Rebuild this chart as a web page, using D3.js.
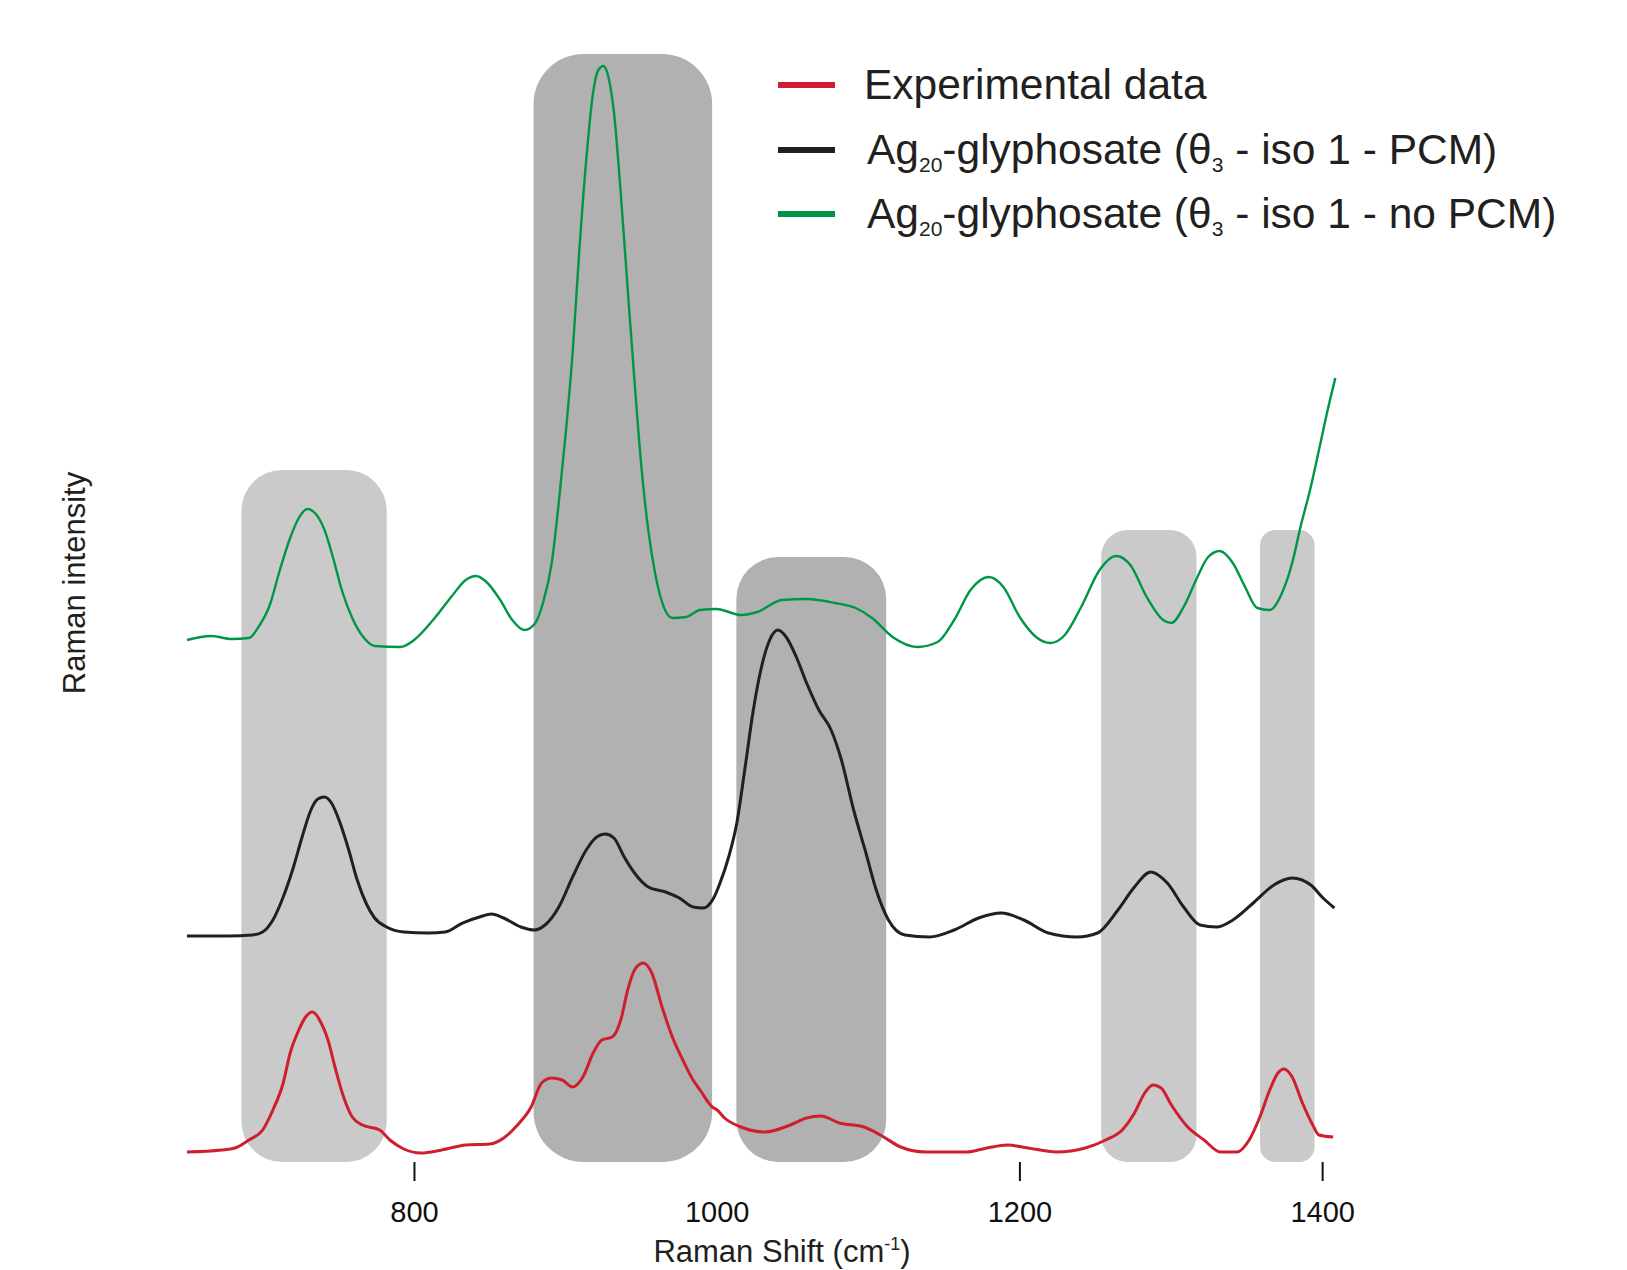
<!DOCTYPE html>
<html>
<head>
<meta charset="utf-8">
<script src="https://cdn.jsdelivr.net/npm/d3@7"></script>
<style>
  html, body { margin: 0; padding: 0; background: #ffffff; }
  svg { display: block; }
  text { font-family: "Liberation Sans", Arial, Helvetica, sans-serif; }
</style>
</head>
<body>
<svg id="chart" width="1627" height="1270"></svg>
<script>
// ---------------- DATA ----------------
// Raman shift (cm-1), stacked intensity (arbitrary units)
const experimental = [
  [650,1.8],[672.7,2.0],[681.7,2.2],[690.9,3.0],[700,4.0],[706.8,6.0],[713.6,8.7],[718.2,11.7],
  [723.9,14.0],[728.4,15.3],[733,15.8],[738.7,14.7],[743.2,13.0],[747.8,10.3],[753.5,7.3],[759.2,5.3],
  [766,4.5],[777.3,4.0],[784.1,3.0],[793.3,2.1],[804.6,1.7],[818.3,2.0],[834.2,2.5],[850.1,2.6],
  [859.3,3.2],[868.4,4.5],[877.4,6.3],[884.3,8.7],[891.1,9.2],[897.9,9.0],[904.8,8.3],[911.6,9.3],
  [918.4,11.7],[924.1,13.0],[931,13.3],[936.6,15.0],[941.2,18.0],[945.7,20.0],[951.4,20.7],[957.1,19.7],
  [963.9,16.3],[970.7,13.3],[977.6,11.0],[984.4,9.0],[989,8.0],[997.1,6.3],[1000.3,6.0],[1005.2,5.2],
  [1016.1,4.3],[1032.3,3.8],[1048.6,4.5],[1059.4,5.2],[1068.8,5.4],[1081,4.7],[1097.3,4.3],[1108.1,3.5],
  [1121.6,2.3],[1137.9,1.8],[1165,1.8],[1178.5,2.2],[1192.1,2.5],[1205.6,2.2],[1224.6,1.8],[1243.5,2.2],
  [1257,3.0],[1267.9,4.0],[1276,5.7],[1282.8,7.7],[1288.2,8.5],[1293.6,8.2],[1300.4,6.5],[1311.2,4.3],
  [1322,3.0],[1332.9,1.8],[1343.7,1.8],[1351.8,3.0],[1358.6,5.2],[1365.4,8.0],[1370.8,9.7],[1374.8,10.1],
  [1380.2,9.3],[1387,6.7],[1393.8,4.5],[1397.9,3.5],[1407.3,3.3]
];
const withPCM = [
  [650,23.4],[677.2,23.4],[693.2,23.5],[700,23.8],[706.8,25.0],[713.6,27.3],[720.4,30.3],[726.1,33.3],
  [731.9,36.0],[736.4,37.1],[740.9,37.3],[745.5,36.7],[751.2,34.7],[756.9,32.0],[762.5,29.0],[768.3,26.7],
  [774,25.2],[781.9,24.3],[793.3,23.8],[809.2,23.7],[820.6,23.8],[832,24.7],[843.3,25.3],[851.3,25.6],
  [859.3,25.2],[870.6,24.3],[879.7,24.0],[886.6,24.5],[895.7,26.3],[904.8,29.3],[913.8,32.0],[920.7,33.3],
  [926.4,33.6],[932.1,33.2],[938.9,31.3],[945.7,29.7],[954.8,28.3],[966.2,27.8],[975.3,27.2],[984.4,26.3],
  [991.2,26.2],[998,27.2],[1002.2,28.7],[1007.9,31.3],[1013.3,34.7],[1018.8,40.3],[1024.2,46.0],[1029.6,50.3],
  [1035,53.0],[1040.4,54.0],[1045.9,53.3],[1052.6,51.3],[1059.4,48.7],[1067.5,46.0],[1075.6,44.0],[1082.4,41.0],
  [1090.5,36.0],[1098.6,31.7],[1105.4,28.0],[1113.5,25.0],[1124.3,23.5],[1140.6,23.3],[1156.9,24.0],[1173.1,25.2],
  [1188,25.7],[1202.9,25.0],[1219.2,23.7],[1238.1,23.3],[1251.6,23.7],[1265.1,26.0],[1276,28.3],[1286.8,29.8],
  [1297.7,28.7],[1308.5,26.3],[1319.3,24.5],[1330.2,24.3],[1341,25.0],[1354.5,26.7],[1368.1,28.5],[1380.2,29.2],
  [1392.5,28.5],[1400.6,27.2],[1408.1,26.2]
];
const noPCM = [
  [650,53.0],[665.9,53.4],[679.6,53.1],[690.9,53.2],[697.7,54.4],[704.5,56.4],[711.4,60.0],[718.2,63.2],
  [723.9,65.2],[729.6,66.1],[735.2,65.6],[740.9,64.0],[746.6,61.2],[752.3,58.0],[759.2,55.2],[766,53.4],
  [774,52.4],[791,52.3],[800.1,53.0],[813.7,55.2],[825.1,57.4],[834.2,59.0],[841,59.4],[847.9,58.8],
  [857,57.0],[864.9,55.0],[872.9,54.0],[879.7,54.6],[885.4,56.8],[891.1,60.8],[895.7,66.8],[900.2,73.6],
  [904.8,81.7],[909.3,92.1],[913.8,101.0],[918.4,107.8],[921.8,110.0],[925.2,110.4],[928.6,109.2],[932.1,105.8],
  [936.6,97.7],[941.2,88.1],[945.7,78.9],[950.2,70.4],[954.8,64.0],[959.4,59.6],[963.9,56.8],[970.7,55.2],
  [979.8,55.3],[989,56.0],[999.8,56.1],[1016.1,55.5],[1026.9,55.8],[1043.1,57.0],[1059.4,57.1],[1078.3,56.7],
  [1091.8,56.2],[1102.7,55.2],[1116.2,53.3],[1132.5,52.3],[1146,52.8],[1156.9,55.0],[1167.7,58.0],[1179.8,59.3],
  [1189.4,58.3],[1200.2,55.3],[1211,53.3],[1220.5,52.7],[1230,53.5],[1240.8,56.3],[1253,60.0],[1263.8,61.4],
  [1273.3,60.5],[1284.1,57.3],[1294.9,55.0],[1300.4,54.7],[1308.5,56.3],[1316.7,59.0],[1324.7,61.3],[1332.3,61.9],
  [1341,60.7],[1349.1,58.3],[1357.2,56.2],[1365.4,56.0],[1373.5,57.7],[1380.2,60.7],[1385.7,64.3],[1392.5,68.3],
  [1397.9,72.0],[1403.2,75.7],[1408.7,79.2]
];

// highlighted spectral regions
const bandStart = [686, 879, 1013, 1254, 1359];
const bandEnd   = [782, 997, 1112, 1317, 1395];
const bandTop   = [70, 111.6, 61.3, 64, 64];
const bandShade = ["light", "dark", "dark", "light", "light"];
const bandBase  = 0.8;

const tickValues = [800, 1000, 1200, 1400];
const seriesNames = ["Experimental data", "Ag20-glyphosate (θ3 - iso 1 - PCM)", "Ag20-glyphosate (θ3 - iso 1 - no PCM)"];

// ---------------- CHART ----------------
const svg = d3.select("#chart");
const x = d3.scaleLinear().domain([640, 1420]).range([171.8, 1352.4]);
const y = d3.scaleLinear().domain([0, 117]).range([1170, 0]);

const shadeColor = { light: "#cacaca", dark: "#b1b1b1" };

const bands = bandStart.map((s, i) => ({ s, e: bandEnd[i], top: bandTop[i], shade: bandShade[i] }));
svg.append("g").selectAll("rect").data(bands).join("rect")
  .attr("x", d => x(d.s))
  .attr("width", d => x(d.e) - x(d.s))
  .attr("y", d => y(d.top))
  .attr("height", d => y(bandBase) - y(d.top))
  .attr("rx", d => Math.min(50, (x(d.e) - x(d.s)) * 0.28))
  .attr("fill", d => shadeColor[d.shade]);

// axis
const axis = d3.axisBottom(x).tickValues(tickValues).tickSize(19).tickPadding(20).tickFormat(d3.format("d"));
const gx = svg.append("g").attr("transform", `translate(0,${y(bandBase)})`).call(axis);
gx.select(".domain").remove();
gx.selectAll(".tick line").attr("stroke", "#111").attr("stroke-width", 2);
gx.selectAll(".tick").filter(d => d === 1000).select("line").remove();
gx.selectAll(".tick text").attr("fill", "#111").style("font-size", "29px")
  .style("font-family", "'Liberation Sans', Arial, sans-serif");

// lines
const line = d3.line().x(d => x(d[0])).y(d => y(d[1])).curve(d3.curveMonotoneX);
const series = [
  { data: noPCM, color: "#009646", w: 2.4 },
  { data: withPCM, color: "#231f20", w: 3 },
  { data: experimental, color: "#cf1f2e", w: 3 }
];
svg.append("g").selectAll("path").data(series).join("path")
  .attr("d", d => line(d.data))
  .attr("fill", "none")
  .attr("stroke", d => d.color)
  .attr("stroke-width", d => d.w)
  .attr("stroke-linejoin", "round");

// axis titles
const xt = svg.append("text").attr("x", 782).attr("y", 1262).attr("text-anchor", "middle")
  .style("font-size", "31px").attr("fill", "#231f20");
xt.append("tspan").text("Raman Shift (cm");
xt.append("tspan").attr("dy", -12).style("font-size", "18px").text("-1");
xt.append("tspan").attr("dy", 12).text(")");

svg.append("text").attr("transform", "translate(85,583) rotate(-90)").attr("text-anchor", "middle")
  .style("font-size", "31px").attr("fill", "#231f20").text("Raman intensity");

// legend
const legColors = ["#cf1f2e", "#231f20", "#009646"];
const legY = [85, 150, 214];
const leg = svg.append("g");
seriesNames.forEach((name, i) => {
  leg.append("line").attr("x1", 778).attr("x2", 835).attr("y1", legY[i]).attr("y2", legY[i])
    .attr("stroke", legColors[i]).attr("stroke-width", 6);
  const t = leg.append("text").attr("x", i === 0 ? 864 : 867).attr("y", legY[i] + 14)
    .style("font-size", "42.5px").attr("fill", "#231f20");
  if (i === 0) {
    t.text(name);
  } else {
    const m = name.match(/^Ag(20)(-glyphosate \(θ)(3)(.*)$/);
    t.append("tspan").text("Ag");
    t.append("tspan").attr("dy", 7.5).style("font-size", "21px").text(m[1]);
    t.append("tspan").attr("dy", -7.5).text(m[2]);
    t.append("tspan").attr("dy", 7.5).style("font-size", "21px").text(m[3]);
    t.append("tspan").attr("dy", -7.5).text(m[4]);
  }
});
</script>
</body>
</html>
